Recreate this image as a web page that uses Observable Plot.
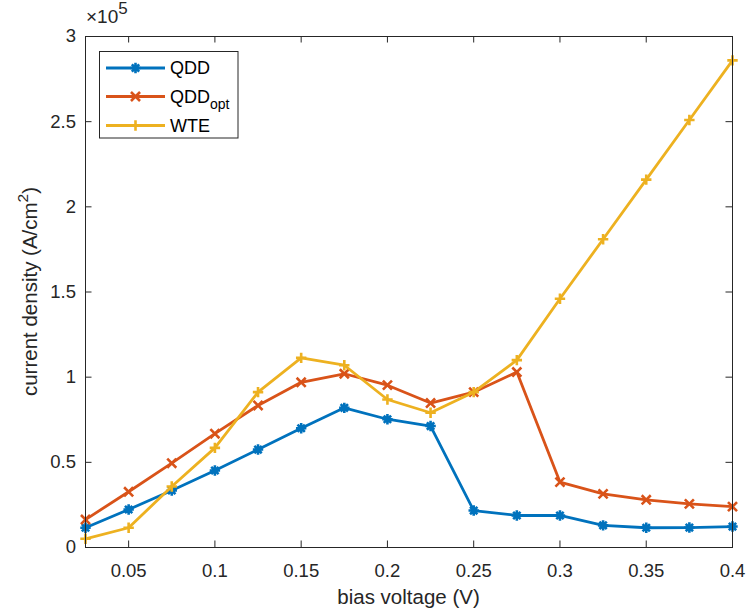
<!DOCTYPE html>
<html><head><meta charset="utf-8">
<script src="https://cdn.jsdelivr.net/npm/d3@7"></script>
<script src="https://cdn.jsdelivr.net/npm/@observablehq/plot@0.6"></script>
<style>body{margin:0;background:#fff;} svg{display:block}</style>
</head><body><div id="chart"></div>
<script>
// ---- data ----
const bias = [0.025,0.05,0.075,0.1,0.125,0.15,0.175,0.2,0.225,0.25,0.275,0.3,0.325,0.35,0.375,0.4];
const qdd = [11600,22300,33500,45200,57500,70000,82000,75300,71300,21700,18800,18800,13000,11600,11700,12300];
const qddOpt = [16400,32700,49500,66800,83400,97000,102000,95300,84800,91200,103000,38400,31500,28000,25600,24000];
const wte = [5100,11600,35800,58500,91200,111300,107000,86900,79100,91200,110000,146000,181000,216000,251000,286000];
const xTicks = [0.05,0.1,0.15,0.2,0.25,0.3,0.35,0.4];
const yTicks = [0,50000,100000,150000,200000,250000,300000];
const seriesNames = ["QDD","QDDopt","WTE"];
const seriesColors = ["#0072BD","#D95319","#EDB120"];

// ---- layout ----
const W = 748, H = 610, mt = 36, mb = 63, ml = 85, mr = 16;
const plotH = H - mt - mb, plotW = W - ml - mr, tickLen = 6.5;
const axisColor = "#262626";
const font = "'Liberation Sans', Arial, Helvetica, sans-serif";

// custom marker shapes (MATLAB-like)
const asterisk = {draw(c, size){ const r = Math.sqrt(size/Math.PI), d = r*Math.SQRT1_2;
  c.moveTo(-r,0); c.lineTo(r,0); c.moveTo(0,-r); c.lineTo(0,r);
  c.moveTo(-d,-d); c.lineTo(d,d); c.moveTo(-d,d); c.lineTo(d,-d); }};
const times = {draw(c, size){ const r = Math.sqrt(size/Math.PI)*Math.SQRT1_2;
  c.moveTo(-r,-r); c.lineTo(r,r); c.moveTo(-r,r); c.lineTo(r,-r); }};
const plus = {draw(c, size){ const r = Math.sqrt(size/Math.PI);
  c.moveTo(-r,0); c.lineTo(r,0); c.moveTo(0,-r); c.lineTo(0,r); }};
const symbols = [asterisk, times, plus];
const symR = [5.2, 6.4, 5.2];

const seriesValues = [qdd, qddOpt, wte];
const series = seriesNames.map((name, i) => ({
  name, color: seriesColors[i], symbol: symbols[i], r: symR[i],
  data: bias.map((x, j) => ({x, y: seriesValues[i][j]}))
}));

const marks = [
  Plot.tickX(xTicks, {x: d => d, insetTop: plotH - tickLen, stroke: axisColor}),
  Plot.tickX(xTicks, {x: d => d, insetBottom: plotH - tickLen, stroke: axisColor}),
  Plot.tickY(yTicks, {y: d => d, insetRight: plotW - tickLen, stroke: axisColor}),
  Plot.tickY(yTicks, {y: d => d, insetLeft: plotW - tickLen, stroke: axisColor}),
  Plot.axisX(xTicks, {tickSize: 0, tickPadding: 16, fontSize: 18.5, fill: axisColor, label: null, tickFormat: d => String(d)}),
  Plot.axisY(yTicks, {tickSize: 0, tickPadding: 9.5, fontSize: 18.5, fill: axisColor, label: null, tickFormat: d => String(d/1e5)})
];
for (const s of series) {
  marks.push(Plot.line(s.data, {x: "x", y: "y", stroke: s.color, strokeWidth: 2.8}));
  marks.push(Plot.dot(s.data, {x: "x", y: "y", symbol: s.symbol, r: s.r, fill: "none", stroke: s.color, strokeWidth: 2.6}));
}
marks.push(Plot.frame({stroke: axisColor, strokeWidth: 1}));

const chart = Plot.plot({
  width: W, height: H,
  marginTop: mt, marginBottom: mb, marginLeft: ml, marginRight: mr,
  style: {fontFamily: font, background: "#fff", color: axisColor},
  x: {domain: [0.025, 0.4], label: null},
  y: {domain: [0, 300000], label: null},
  marks
});
document.getElementById("chart").appendChild(chart);

// ---- annotations: axis labels, exponent, legend ----
const svg = d3.select(chart);
svg.append("text").attr("x", ml + plotW/2).attr("y", 604)
  .attr("text-anchor", "middle").attr("font-size", 20.5).attr("fill", axisColor).attr("font-family", font)
  .text("bias voltage (V)");

const yl = svg.append("text").attr("transform", `translate(37,${mt + plotH/2}) rotate(-90)`)
  .attr("text-anchor", "middle").attr("font-size", 20.5).attr("fill", axisColor).attr("font-family", font);
yl.append("tspan").text("current density (A/cm");
yl.append("tspan").attr("dy", -9).attr("font-size", 15.5).text("2");
yl.append("tspan").attr("dy", 9).text(")");

const ex = svg.append("text").attr("x", ml + 1).attr("y", 23).attr("text-anchor", "start")
  .attr("font-size", 19).attr("fill", axisColor).attr("font-family", font);
ex.append("tspan").text("\u00d710");
ex.append("tspan").attr("dy", -9).attr("font-size", 17).text("5");

const lg = svg.append("g").attr("font-family", font).attr("text-anchor", "start");
lg.append("rect").attr("x", 99.5).attr("y", 51.5).attr("width", 138.5).attr("height", 86.5)
  .attr("fill", "#fff").attr("stroke", axisColor).attr("stroke-width", 1);
const rowY = [68, 96.5, 125.5];
series.forEach((s, i) => {
  const y = rowY[i];
  lg.append("line").attr("x1", 106).attr("x2", 165).attr("y1", y).attr("y2", y)
    .attr("stroke", s.color).attr("stroke-width", 2.8);
  const p = d3.path(); s.symbol.draw(p, Math.PI * s.r * s.r);
  lg.append("path").attr("d", p.toString()).attr("transform", `translate(135.5,${y})`)
    .attr("fill", "none").attr("stroke", s.color).attr("stroke-width", 2.6);
  const t = lg.append("text").attr("x", 170).attr("y", y).attr("dy", "0.36em")
    .attr("font-size", 18).attr("fill", "#000");
  if (s.name === "QDDopt") {
    t.append("tspan").text("QDD");
    t.append("tspan").attr("dy", 6).attr("font-size", 14).text("opt");
  } else t.text(s.name);
});
</script>
</body></html>
